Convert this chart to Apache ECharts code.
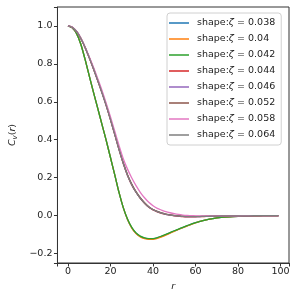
<!DOCTYPE html>
<html>
<head>
<meta charset="utf-8">
<script src="https://cdn.jsdelivr.net/npm/echarts@6/dist/echarts.min.js"></script>
<style>html,body{margin:0;padding:0;background:#fff;}#c{width:297px;height:297px;}</style>
</head>
<body>
<div id="c"></div>
<script>
const rValues = [0,2,4,6,8,10,12,14,16,18,20,22,24,26,28,30,32,34,36,38,40,42,44,46,48,50,52,54,56,58,60,62,64,66,68,70,72,76,80,85,90,95,99];

const seriesNames = ['shape:ζ = 0.038','shape:ζ = 0.04','shape:ζ = 0.042','shape:ζ = 0.044','shape:ζ = 0.046','shape:ζ = 0.052','shape:ζ = 0.058','shape:ζ = 0.064'];
const seriesColors = ['#1f77b4','#ff7f0e','#2ca02c','#d62728','#9467bd','#8c564b','#e377c2','#7f7f7f'];

const z038 = [1.000,0.990,0.960,0.905,0.825,0.737,0.650,0.565,0.480,0.395,0.305,0.215,0.122,0.042,-0.020,-0.064,-0.093,-0.110,-0.119,-0.123,-0.123,-0.118,-0.110,-0.101,-0.091,-0.081,-0.072,-0.063,-0.054,-0.045,-0.037,-0.031,-0.025,-0.020,-0.016,-0.012,-0.009,-0.006,-0.004,-0.002,-0.001,0.000,0.000];
const z040 = [1.000,0.990,0.960,0.905,0.825,0.737,0.650,0.565,0.480,0.395,0.305,0.215,0.122,0.042,-0.021,-0.066,-0.095,-0.112,-0.121,-0.125,-0.125,-0.120,-0.112,-0.103,-0.093,-0.083,-0.073,-0.064,-0.055,-0.046,-0.038,-0.031,-0.025,-0.020,-0.016,-0.012,-0.009,-0.006,-0.004,-0.002,-0.001,0.000,0.000];
const z042 = [1.000,0.990,0.960,0.905,0.825,0.737,0.650,0.565,0.480,0.395,0.305,0.215,0.122,0.042,-0.018,-0.062,-0.091,-0.108,-0.117,-0.121,-0.121,-0.116,-0.108,-0.099,-0.090,-0.080,-0.071,-0.062,-0.053,-0.045,-0.037,-0.031,-0.025,-0.020,-0.016,-0.012,-0.009,-0.006,-0.004,-0.002,-0.001,0.000,0.000];
const z044 = [1.000,0.993,0.971,0.935,0.887,0.832,0.773,0.711,0.647,0.579,0.505,0.427,0.348,0.275,0.212,0.162,0.123,0.091,0.065,0.044,0.030,0.020,0.012,0.006,0.002,-0.001,-0.003,-0.005,-0.006,-0.006,-0.006,-0.005,-0.005,-0.004,-0.004,-0.003,-0.003,-0.002,-0.001,-0.001,0.000,0.000,0.000];
const z046 = [1.000,0.993,0.971,0.935,0.888,0.833,0.774,0.712,0.648,0.580,0.506,0.428,0.349,0.276,0.213,0.163,0.124,0.092,0.066,0.045,0.031,0.021,0.013,0.007,0.003,0.000,-0.002,-0.004,-0.005,-0.005,-0.005,-0.005,-0.004,-0.004,-0.003,-0.003,-0.002,-0.002,-0.001,-0.001,0.000,0.000,0.000];
const z052 = [1.000,0.993,0.972,0.936,0.889,0.834,0.776,0.714,0.650,0.583,0.509,0.431,0.352,0.279,0.216,0.166,0.126,0.094,0.068,0.047,0.032,0.022,0.014,0.008,0.004,0.001,-0.001,-0.003,-0.004,-0.004,-0.004,-0.004,-0.004,-0.003,-0.003,-0.002,-0.002,-0.002,-0.001,-0.001,0.000,0.000,0.000];
const z058 = [1.000,0.994,0.973,0.938,0.890,0.838,0.782,0.722,0.660,0.592,0.520,0.445,0.370,0.300,0.245,0.198,0.158,0.123,0.094,0.070,0.052,0.038,0.029,0.021,0.015,0.010,0.006,0.003,0.001,0.000,-0.001,-0.002,-0.002,-0.002,-0.002,-0.002,-0.001,-0.001,-0.001,0.000,0.000,0.000,0.000];
const z064 = [1.000,0.993,0.971,0.935,0.888,0.833,0.774,0.712,0.648,0.580,0.506,0.428,0.349,0.276,0.213,0.163,0.124,0.092,0.066,0.045,0.031,0.021,0.013,0.007,0.003,0.000,-0.002,-0.004,-0.005,-0.005,-0.005,-0.005,-0.004,-0.004,-0.003,-0.003,-0.002,-0.002,-0.001,-0.001,0.000,0.000,0.000];
const seriesValues = [z038,z040,z042,z044,z046,z052,z058,z064];

const xTickStep = 20;
const yTickStep = 0.2;

const FONT = 'DejaVu Sans';
const FS = 9.5;
const chart = echarts.init(document.getElementById('c'), null, {renderer:'canvas'});

const series = seriesNames.map((name,i)=>({
  name: name,
  type: 'line',
  data: rValues.map((r,j)=>[r, seriesValues[i][j]]),
  showSymbol: false,
  symbol: 'none',
  smooth: 0.3,
  lineStyle: {width: 1.3, color: seriesColors[i]},
  itemStyle: {color: seriesColors[i]},
  emphasis: {disabled: true},
  animation: false,
  z: 2 + i
}));

const isMult = (v, s) => Math.abs(v / s - Math.round(v / s)) < 1e-6;
const fmtX = v => isMult(v, xTickStep) ? String(Math.round(v)) : '';
const fmtY = v => !isMult(v, yTickStep) ? '' : (v < -1e-9 ? '\u2212' + (-v).toFixed(1) : Math.abs(v).toFixed(1));

chart.setOption({
  animation: false,
  backgroundColor: '#fff',
  grid: {left: 50, top: 7, right: 8, bottom: 34, show: true, borderColor: '#333', borderWidth: 1, backgroundColor: 'transparent'},
  xAxis: {
    type: 'value', min: -4.95, max: 103.95, minInterval: xTickStep, maxInterval: xTickStep, splitNumber: 5,
    name: 'r', nameLocation: 'middle', nameGap: 11,
    nameTextStyle: {fontFamily: FONT, fontSize: FS, fontStyle: 'italic', color: '#222'},
    axisLine: {show: true, onZero: false, lineStyle: {color: '#333', width: 1}},
    splitLine: {show: false},
    axisTick: {show: true, inside: false, length: 3.5, lineStyle: {color: '#333', width: 1}},
    axisLabel: {fontFamily: FONT, fontSize: FS, color: '#222', margin: 4, showMinLabel: true, showMaxLabel: true, formatter: fmtX}
  },
  yAxis: {
    type: 'value', min: -0.25, max: 1.1, minInterval: yTickStep, maxInterval: yTickStep, splitNumber: 7,
    name: '{i|C}{s|v}{p|(}{i|r}{p|)}', nameLocation: 'middle', nameGap: 32, nameRotate: 90,
    nameTextStyle: {fontFamily: FONT, fontSize: FS, color: '#222',
      rich: {
        i: {fontFamily: FONT, fontSize: FS, fontStyle: 'italic', color: '#222'},
        s: {fontFamily: FONT, fontSize: 7, fontStyle: 'italic', color: '#222', padding: [4,0,0,0]},
        p: {fontFamily: FONT, fontSize: FS, color: '#222'}
      }},
    axisLine: {show: true, onZero: false, lineStyle: {color: '#333', width: 1}},
    splitLine: {show: false},
    axisTick: {show: true, inside: false, length: 3.5, lineStyle: {color: '#333', width: 1}},
    axisLabel: {fontFamily: FONT, fontSize: FS, color: '#222', margin: 5, formatter: fmtY}
  },
  legend: {
    orient: 'vertical', left: 167, top: 13,
    padding: [4, 6, 4, 2],
    itemGap: 4,
    itemWidth: 20, itemHeight: 1.5,
    icon: 'rect',
    backgroundColor: 'rgba(255,255,255,0.8)',
    borderColor: '#d0d0d0', borderWidth: 1, borderRadius: 3,
    selectedMode: false,
    data: seriesNames,
    formatter: name => {
      const parts = name.split('ζ');
      return '{a|' + parts[0] + '}{z|ζ}{a|' + parts[1] + '}';
    },
    textStyle: {
      fontFamily: FONT, fontSize: FS, color: '#222', lineHeight: 12, padding: [0,0,0,3],
      rich: {
        a: {fontFamily: FONT, fontSize: FS, color: '#222', lineHeight: 12},
        z: {fontFamily: FONT, fontSize: FS, fontStyle: 'italic', color: '#222', lineHeight: 12}
      }
    }
  },
  series: series
});
</script>
</body>
</html>
